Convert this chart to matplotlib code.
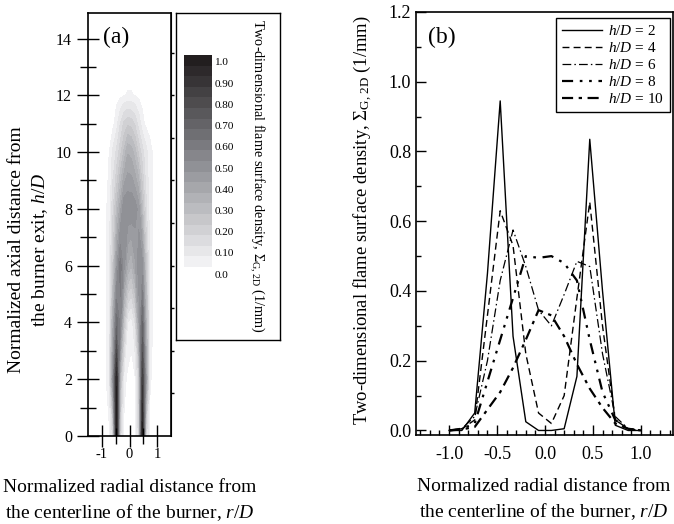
import numpy as np
import matplotlib.pyplot as plt
from matplotlib.colors import LinearSegmentedColormap

plt.rcParams['font.family'] = ['Liberation Serif', 'DejaVu Serif']
plt.rcParams['mathtext.fontset'] = 'custom'
plt.rcParams['mathtext.rm'] = 'Liberation Serif'
plt.rcParams['mathtext.it'] = 'Liberation Serif:italic'
plt.rcParams['axes.unicode_minus'] = False

# radial positions r/D of the measured profiles
r_pos = [-1.0, -0.867, -0.733, -0.6, -0.467, -0.333, -0.2, -0.067,
         0.067, 0.2, 0.333, 0.467, 0.6, 0.733, 0.867, 1.0]

# Sigma_G,2D profiles (1/mm)
sig_h2 = [0, 0, 0.05, 0.45, 0.945, 0.27, 0.025, 0.0,
          0.0, 0.005, 0.155, 0.835, 0.40, 0.015, 0.0, 0.0]
sig_h4 = [0, 0.005, 0.03, 0.33, 0.63, 0.53, 0.22, 0.05,
          0.02, 0.10, 0.38, 0.655, 0.30, 0.03, 0.005, 0]
sig_h6 = [0, 0.005, 0.04, 0.20, 0.43, 0.575, 0.47, 0.345,
          0.30, 0.39, 0.485, 0.47, 0.22, 0.04, 0.005, 0]
sig_h8 = [0, 0.005, 0.02, 0.14, 0.26, 0.38, 0.50, 0.495,
          0.50, 0.48, 0.43, 0.26, 0.11, 0.03, 0.005, 0]
sig_h10 = [0, 0.003, 0.01, 0.06, 0.11, 0.18, 0.26, 0.345,
           0.33, 0.27, 0.19, 0.12, 0.065, 0.02, 0.005, 0]

# extra rows for the map in panel (a), read from its grey levels
sig_h0 = [0, 0, 0, 0.12, 0.99, 0.12, 0, 0, 0, 0, 0.12, 0.99, 0.12, 0, 0, 0]
sig_h11 = [0, 0, 0, 0, 0.03, 0.10, 0.16, 0.19, 0.18, 0.14, 0.08, 0.02, 0, 0, 0, 0]
sig_h12 = [0, 0, 0, 0, 0, 0, 0.008, 0.012, 0.012, 0.008, 0, 0, 0, 0, 0, 0]
sig_h13 = [0] * 16

map_h = [0, 2, 4, 6, 8, 10, 11, 12, 13]
map_rows = [sig_h0, sig_h2, sig_h4, sig_h6, sig_h8, sig_h10, sig_h11, sig_h12, sig_h13]

profiles = [sig_h2, sig_h4, sig_h6, sig_h8, sig_h10]
profile_labels = ['$h/D$ = 2', '$h/D$ = 4', '$h/D$ = 6', '$h/D$ = 8', '$h/D$ = 10']
profile_styles = [('-', 1.0), ((0, (5, 3)), 1.0), ((0, (7, 2.5, 1.2, 2.5)), 0.9),
                  ((0, (5, 3, 1.2, 3, 1.2, 3)), 1.6), ((0, (5, 2.5, 1.5, 2.5)), 1.6)]

cbar_labels = ['1.0', '0.90', '0.80', '0.70', '0.60', '0.50',
               '0.40', '0.30', '0.20', '0.10', '0.0']

W, H = 674, 524
fig = plt.figure(figsize=(W / 100, H / 100), dpi=100)

grey = LinearSegmentedColormap.from_list('g', ['#f1f1f3', '#8b8c91', '#221e1f'])
band_edges = np.arange(0, 1.0001, 0.05)
band_colors = [grey(i / 19) for i in range(20)]
map_levels = band_edges.copy()
map_levels[0] = 0.01
map_levels[-1] = 1.001

# ---- panel (a)
ax_a = fig.add_axes([88 / W, 1 - 436 / H, 83 / W, 423 / H])
ax_a.contourf(r_pos, map_h, np.array(map_rows), levels=map_levels, colors=band_colors)
ax_a.set_xlim(-1.5, 1.5)
ax_a.set_ylim(0, 14.9)
ax_a.set_xticks([-1, 0, 1])
ax_a.set_xticks([-0.5, 0.5], minor=True)
ax_a.set_yticks(range(0, 15, 2))
ax_a.set_yticks(range(1, 15, 2), minor=True)
ax_a.tick_params(axis='both', which='major', direction='inout', length=16, width=1)
ax_a.tick_params(axis='both', which='minor', direction='inout', length=12, width=1)
ax_a.tick_params(axis='y', labelsize=11.5)
ax_a.tick_params(axis='x', labelsize=10.5, pad=1)
for s in ax_a.spines.values():
    s.set_linewidth(1.2)
sec = ax_a.secondary_yaxis('right')
sec.set_yticks(np.arange(1.5, 14, 1.5))
sec.set_yticklabels([])
sec.tick_params(direction='out', length=2, width=1)
ax_a.text(0.337, 0.943, '(a)', transform=ax_a.transAxes, ha='center', va='center', fontsize=17)

fig.text(29 / W, 1 - 250 / H, 'Normalized axial distance from\nthe burner exit, $h/D$',
         rotation=90, ha='center', va='center', fontsize=14, linespacing=1.4)
fig.text(130 / W, 1 - 501 / H, 'Normalized radial distance from\nthe centerline of the burner, $r/D$',
         ha='center', va='center', fontsize=14, linespacing=1.4)

# ---- legend box for the map
box = fig.add_axes([176 / W, 1 - 340 / H, 104 / W, 327 / H])
box.set_xticks([])
box.set_yticks([])
for s in box.spines.values():
    s.set_linewidth(1.0)
box.text(0.78, 0.5, 'Two-dimensional flame surface density, $\\Sigma_{\\rm G,\\,2D}$ (1/mm)',
         rotation=-90, ha='center', va='center', fontsize=10.3, transform=box.transAxes)

bar_ax = fig.add_axes([184 / W, 1 - 280 / H, 60 / W, 225 / H])
bar_ax.bar(0, 0.05, bottom=band_edges[:-1], width=28, align='edge', color=band_colors)
for k, lbl in enumerate(cbar_labels):
    bar_ax.text(31, 1.0 - 0.1 * k - 0.0376, lbl, va='center', ha='left', fontsize=8)
bar_ax.set_xlim(0, 60)
bar_ax.set_ylim(-0.061, 1.0)
bar_ax.axis('off')

# ---- panel (b)
ax_b = fig.add_axes([416 / W, 1 - 435 / H, 257 / W, 423 / H])
for prof, lbl, (ls, lw) in zip(profiles, profile_labels, profile_styles):
    ax_b.plot(r_pos, prof, color='black', linestyle=ls, linewidth=lw, label=lbl)
ax_b.set_xlim(-1.345, 1.335)
ax_b.set_ylim(-0.013, 1.2)
ax_b.set_xticks([-1.0, -0.5, 0.0, 0.5, 1.0])
ax_b.set_xticks(np.arange(-1.3, 1.35, 0.1), minor=True)
ax_b.set_yticks(np.arange(0, 1.21, 0.2))
ax_b.set_yticks(np.arange(0, 1.21, 0.1), minor=True)
ax_b.xaxis.set_major_formatter(plt.FormatStrFormatter('%.1f'))
ax_b.yaxis.set_major_formatter(plt.FormatStrFormatter('%.1f'))
ax_b.tick_params(which='major', direction='in', length=7, width=1, labelsize=13)
ax_b.tick_params(which='minor', direction='in', length=3.5, width=1)
ax_b.tick_params(axis='x', pad=8)
for s in ax_b.spines.values():
    s.set_linewidth(1.2)
ax_b.text(0.10, 0.941, '(b)', transform=ax_b.transAxes, ha='center', va='center', fontsize=17)
leg = ax_b.legend(loc='upper right', bbox_to_anchor=(0.988, 0.986), borderaxespad=0,
                  fancybox=False, edgecolor='black', framealpha=1, fontsize=11,
                  handlelength=2.6, labelspacing=0.2, handletextpad=0.4)
leg.get_frame().set_linewidth(1.0)

fig.text(363 / W, 1 - 220 / H,
         'Two-dimensional flame surface density, $\\Sigma_{\\rm G,\\,2D}$ (1/mm)',
         rotation=90, ha='center', va='center', fontsize=13.4)
fig.text(544 / W, 1 - 500 / H, 'Normalized radial distance from\nthe centerline of the burner, $r/D$',
         ha='center', va='center', fontsize=14, linespacing=1.4)

fig.savefig('out.png', dpi=100)
